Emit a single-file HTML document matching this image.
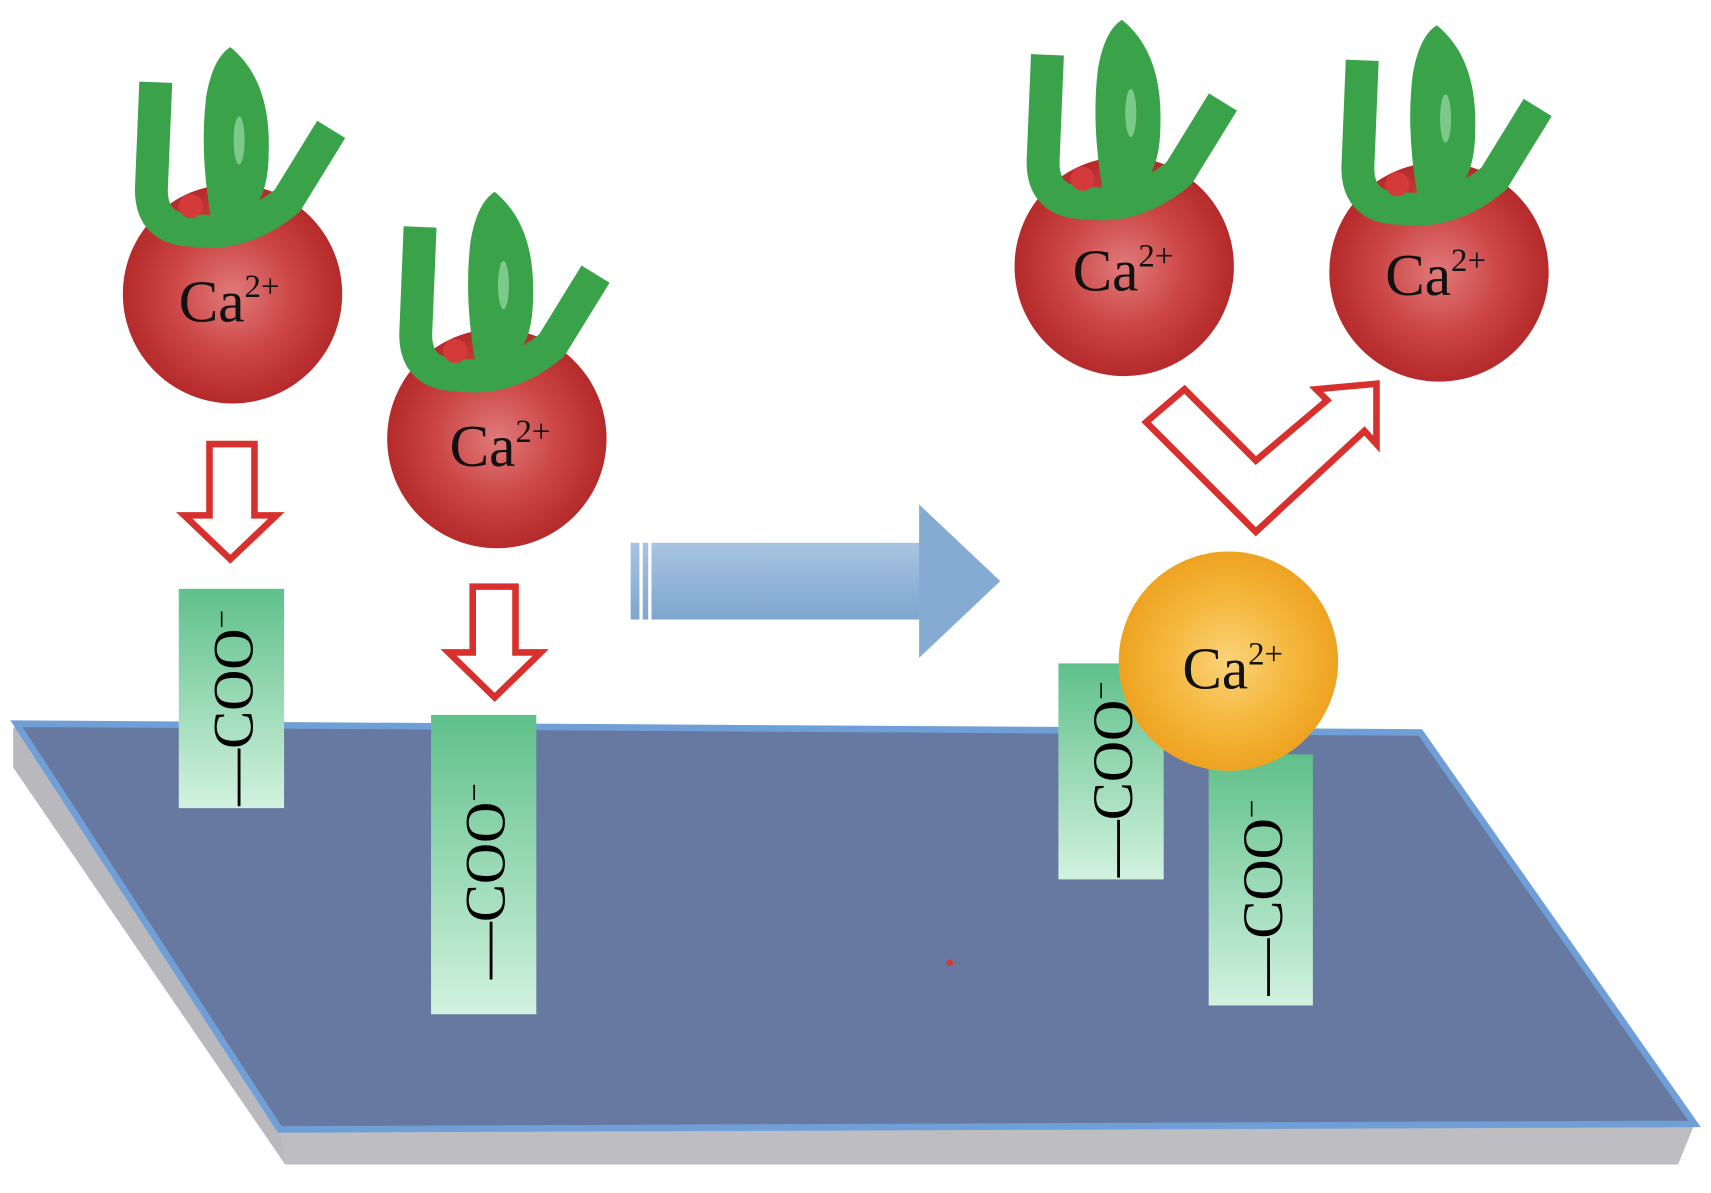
<!DOCTYPE html>
<html><head><meta charset="utf-8"><style>html,body{margin:0;padding:0;background:#fff;}svg{display:block}</style></head>
<body>
<svg width="1711" height="1193" viewBox="0 0 1560 1088" preserveAspectRatio="none" xmlns="http://www.w3.org/2000/svg">
<defs>
<radialGradient id="red" cx="50%" cy="50%" r="50%">
<stop offset="0" stop-color="#e07a7a"/><stop offset="0.55" stop-color="#cc4646"/><stop offset="1" stop-color="#b52a2a"/></radialGradient>
<radialGradient id="org" cx="50%" cy="50%" r="50%">
<stop offset="0" stop-color="#fbd27a"/><stop offset="0.6" stop-color="#f4b63a"/><stop offset="1" stop-color="#eea321"/></radialGradient>
<linearGradient id="grn" x1="0" y1="0" x2="0" y2="1">
<stop offset="0" stop-color="#5fc08a"/><stop offset="1" stop-color="#d2f2df"/></linearGradient>
<linearGradient id="blue" x1="0" y1="0" x2="0" y2="1">
<stop offset="0" stop-color="#a9c4e0"/><stop offset="1" stop-color="#7ea6d0"/></linearGradient>
<g id="leaf">
<path d="M-70,-193 L-74,-95 Q-74,-58 -35,-58 Q10,-52 50,-85 L90,-150" fill="none" stroke="#3aa34a" stroke-width="30" stroke-linejoin="round" stroke-linecap="butt"/>
<path d="M-2,-225 Q35,-195 33,-130 Q33,-85 12,-72 L-20,-72 Q-30,-130 -24,-180 Q-18,-215 -2,-225 Z" fill="#3aa34a"/>
<ellipse cx="6" cy="-140" rx="5" ry="22" fill="#7cc98a"/>
<circle cx="-38" cy="-80" r="11" fill="#d43a3a"/>
</g>
</defs>
<!-- platform -->
<polygon points="12,665 15,660 260,1030 260,1062 12,700" fill="#b9b9bd"/>
<polygon points="255,1030 1545,1025 1530,1062 260,1062" fill="#bdbdc2"/>
<polygon points="15,660 1295,668 1545,1025 255,1030" fill="#6779a0" stroke="#6f9fd6" stroke-width="6"/>
<circle cx="866" cy="878" r="3" fill="#d33"/>
<!-- balls -->
<circle cx="212" cy="268" r="100" fill="url(#red)"/>
<use href="#leaf" transform="translate(212,268)"/>
<circle cx="453" cy="400" r="100" fill="url(#red)"/>
<use href="#leaf" transform="translate(453,400)"/>
<circle cx="1025" cy="243" r="100" fill="url(#red)"/>
<use href="#leaf" transform="translate(1025,243)"/>
<circle cx="1312" cy="248" r="100" fill="url(#red)"/>
<use href="#leaf" transform="translate(1312,248)"/>
<!-- COO rects -->
<rect x="163" y="537" width="96" height="200" fill="url(#grn)"/>
<rect x="393" y="652" width="96" height="273" fill="url(#grn)"/>
<rect x="965" y="605" width="96" height="197" fill="url(#grn)"/>
<rect x="1102" y="688" width="95" height="229" fill="url(#grn)"/>
<g font-family="Liberation Serif, serif" font-size="52" fill="#000">
<text transform="translate(230,735) rotate(-90)">—COO<tspan font-size="30" dy="-18">−</tspan></text>
<text transform="translate(460,893) rotate(-90)">—COO<tspan font-size="30" dy="-18">−</tspan></text>
<text transform="translate(1032,800) rotate(-90)">—COO<tspan font-size="30" dy="-18">−</tspan></text>
<text transform="translate(1169,908) rotate(-90)">—COO<tspan font-size="30" dy="-18">−</tspan></text>
</g>
<!-- orange ball -->
<circle cx="1120" cy="603" r="100" fill="url(#org)"/>
<!-- Ca labels -->
<g font-family="Liberation Serif, serif" font-size="54" fill="#111">
<text x="163" y="293">Ca<tspan font-size="30" dy="-22">2+</tspan></text>
<text x="410" y="425">Ca<tspan font-size="30" dy="-22">2+</tspan></text>
<text x="978" y="265">Ca<tspan font-size="30" dy="-22">2+</tspan></text>
<text x="1263" y="269">Ca<tspan font-size="30" dy="-22">2+</tspan></text>
<text x="1078" y="628">Ca<tspan font-size="30" dy="-22">2+</tspan></text>
</g>
<!-- red down arrows -->
<polygon points="191,405 232,405 232,470 252,470 210,510 168,470 191,470" fill="#fff" stroke="#d8302c" stroke-width="6"/>
<polygon points="431,535 470,535 470,595 493,595 451,636 409,595 431,595" fill="#fff" stroke="#d8302c" stroke-width="6"/>
<!-- blue arrow -->
<rect x="575" y="495" width="265" height="70" fill="url(#blue)"/>
<polygon points="838,460 912,530 838,600" fill="#86abd3"/>
<rect x="583" y="495" width="3" height="70" fill="#fff"/>
<rect x="591" y="495" width="3" height="70" fill="#fff"/>
<!-- V arrow -->
<polygon points="1045,385 1080,355 1145,420 1210,365 1200,355 1255,350 1255,405 1244,393 1145,485" fill="#fff" stroke="#d8302c" stroke-width="6" stroke-linejoin="miter"/>
</svg>
</body></html>
